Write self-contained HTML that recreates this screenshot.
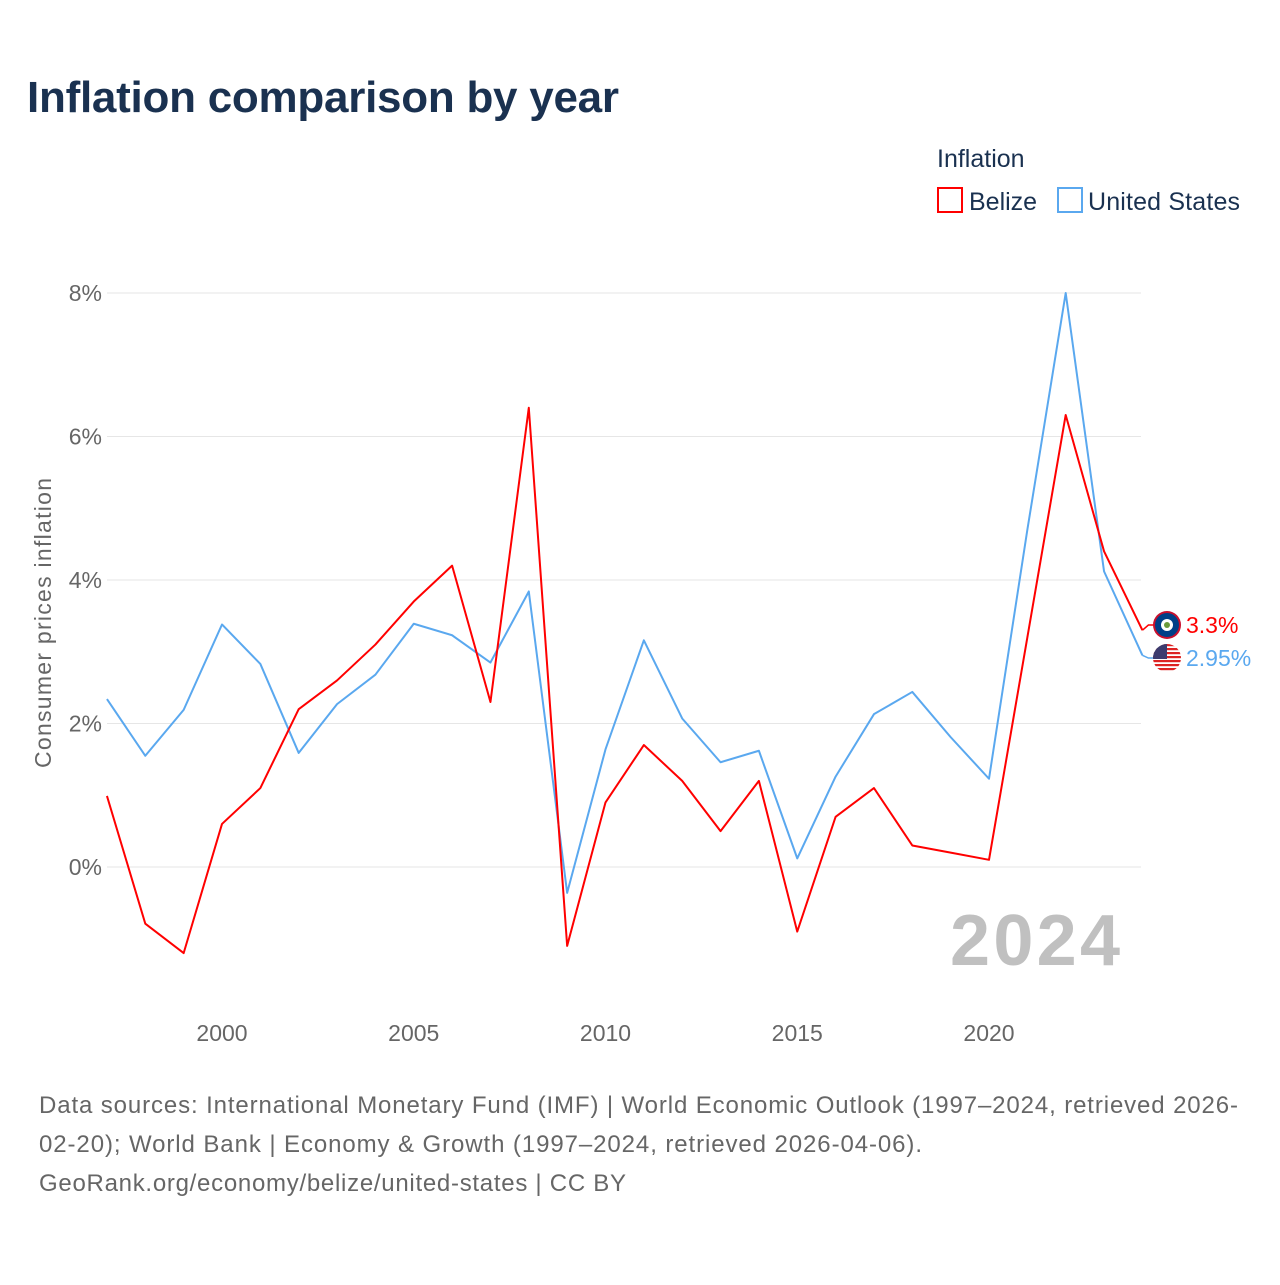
<!DOCTYPE html>
<html><head><meta charset="utf-8"><style>
body{margin:0;background:#fff;font-family:"Liberation Sans",sans-serif;}
</style></head><body>
<svg width="1280" height="1280" xmlns="http://www.w3.org/2000/svg" id="chart" font-family="Liberation Sans, sans-serif">
<defs><clipPath id="usclip"><circle cx="1167" cy="658" r="14"/></clipPath></defs>
<rect width="1280" height="1280" fill="#fff"/>
<text x="27" y="112" font-size="44" font-weight="bold" fill="#1a3150" textLength="592">Inflation comparison by year</text>
<text x="937" y="167" font-size="25" fill="#1a3150">Inflation</text>
<g><rect x="938" y="188" width="24" height="24" fill="none" stroke="#f00" stroke-width="2"/><text x="969" y="210" font-size="25" fill="#1a3150">Belize</text></g>
<g><rect x="1058" y="188" width="24" height="24" fill="none" stroke="#5aa8ef" stroke-width="2"/><text x="1088" y="210" font-size="25" fill="#1a3150" textLength="152">United States</text></g>
<text transform="translate(51,623) rotate(-90)" text-anchor="middle" font-size="23" fill="#666" textLength="290">Consumer prices inflation</text>
<g id="grid"></g><g id="series"></g>
<text x="1120" y="965" text-anchor="end" font-size="72" font-weight="bold" fill="#c0c0c0" textLength="170">2024</text>
<g font-size="24" fill="#666">
<text x="39" y="1113" textLength="1199">Data sources: International Monetary Fund (IMF) | World Economic Outlook (1997–2024, retrieved 2026-</text>
<text x="39" y="1152" textLength="883">02-20); World Bank | Economy &amp; Growth (1997–2024, retrieved 2026-04-06).</text>
<text x="39" y="1191" textLength="587">GeoRank.org/economy/belize/united-states | CC BY</text>
</g>
</svg>
<script>
const years=[1997,1998,1999,2000,2001,2002,2003,2004,2005,2006,2007,2008,2009,2010,2011,2012,2013,2014,2015,2016,2017,2018,2019,2020,2021,2022,2023,2024];
const belize=[0.99,-0.79,-1.2,0.6,1.1,2.2,2.6,3.1,3.7,4.2,2.3,6.4,-1.1,0.9,1.7,1.2,0.5,1.2,-0.9,0.7,1.1,0.3,0.2,0.1,3.2,6.3,4.4,3.3];
const us=[2.34,1.55,2.19,3.38,2.83,1.59,2.27,2.68,3.39,3.23,2.85,3.84,-0.36,1.64,3.16,2.07,1.46,1.62,0.12,1.26,2.13,2.44,1.81,1.23,4.7,8.0,4.12,2.95];
const yTicks=[0,2,4,6,8];
const xTicks=[2000,2005,2010,2015,2020];
const NS="http://www.w3.org/2000/svg";
const X=y=>222+(y-2000)*38.35;
const Y=v=>867-v*71.75;
function mk(tag,attrs,parent){const e=document.createElementNS(NS,tag);for(const k in attrs)e.setAttribute(k,attrs[k]);parent.appendChild(e);return e;}
const grid=document.getElementById('grid'),ser=document.getElementById('series');
yTicks.forEach(t=>{
 const l=mk('line',{x1:107,x2:1141,y1:Y(t),y2:Y(t),stroke:'#e6e6e6','stroke-width':1},grid);
 
 
 const tx=mk('text',{x:102,y:Y(t)+8,'text-anchor':'end','font-size':23,fill:'#666'},grid);
 tx.textContent=t+'%';
 
 
});
xTicks.forEach(t=>{
 const tx=mk('text',{x:X(t),y:1041,'text-anchor':'middle','font-size':23,fill:'#666'},grid);
 tx.textContent=t;
 
 
});
function line(vals,color,name){
 const p=mk('polyline',{points:vals.map((v,i)=>X(years[i])+','+Y(v)).join(' '),fill:'none',stroke:color,'stroke-width':2,'stroke-linejoin':'round'},ser);
 
 
}
line(us,'#5aa8ef','line-united-states');
line(belize,'#f00','line-belize');
const lx=X(2024);
const bv=belize[belize.length-1],uv=us[us.length-1];
const by=625,uy=658;
mk('polyline',{points:`${lx},${Y(bv)} ${lx+6},${by} ${lx+12},${by}`,fill:'none',stroke:'#f00','stroke-width':1.5},ser);
mk('polyline',{points:`${lx},${Y(uv)} ${lx+6},${uy} ${lx+12},${uy}`,fill:'none',stroke:'#5aa8ef','stroke-width':1.5},ser);
const fb=mk('g',{},ser);


mk('circle',{cx:1167,cy:by,r:14,fill:'#c8102e'},fb);
mk('circle',{cx:1167,cy:by,r:12,fill:'#003f87'},fb);
mk('circle',{cx:1167,cy:by,r:6,fill:'#fff'},fb);
mk('circle',{cx:1167,cy:by,r:3,fill:'#6a9a3a'},fb);
const fu=mk('g',{'clip-path':'url(#usclip)'},ser);


mk('rect',{x:1153,y:uy-14,width:28,height:28,fill:'#fff'},fu);
for(let i=0;i<7;i++)mk('rect',{x:1153,y:uy-14+i*4,width:28,height:2.2,fill:'#d22'},fu);
mk('rect',{x:1153,y:uy-14,width:14,height:15,fill:'#3c3b6e'},fu);
const tb=mk('text',{x:1186,y:by+8,'font-size':23,fill:'#f00'},ser);
tb.textContent=bv+'%';


const tu=mk('text',{x:1186,y:uy+8,'font-size':23,fill:'#5aa8ef'},ser);
tu.textContent=uv+'%';


</script>
</body></html>
